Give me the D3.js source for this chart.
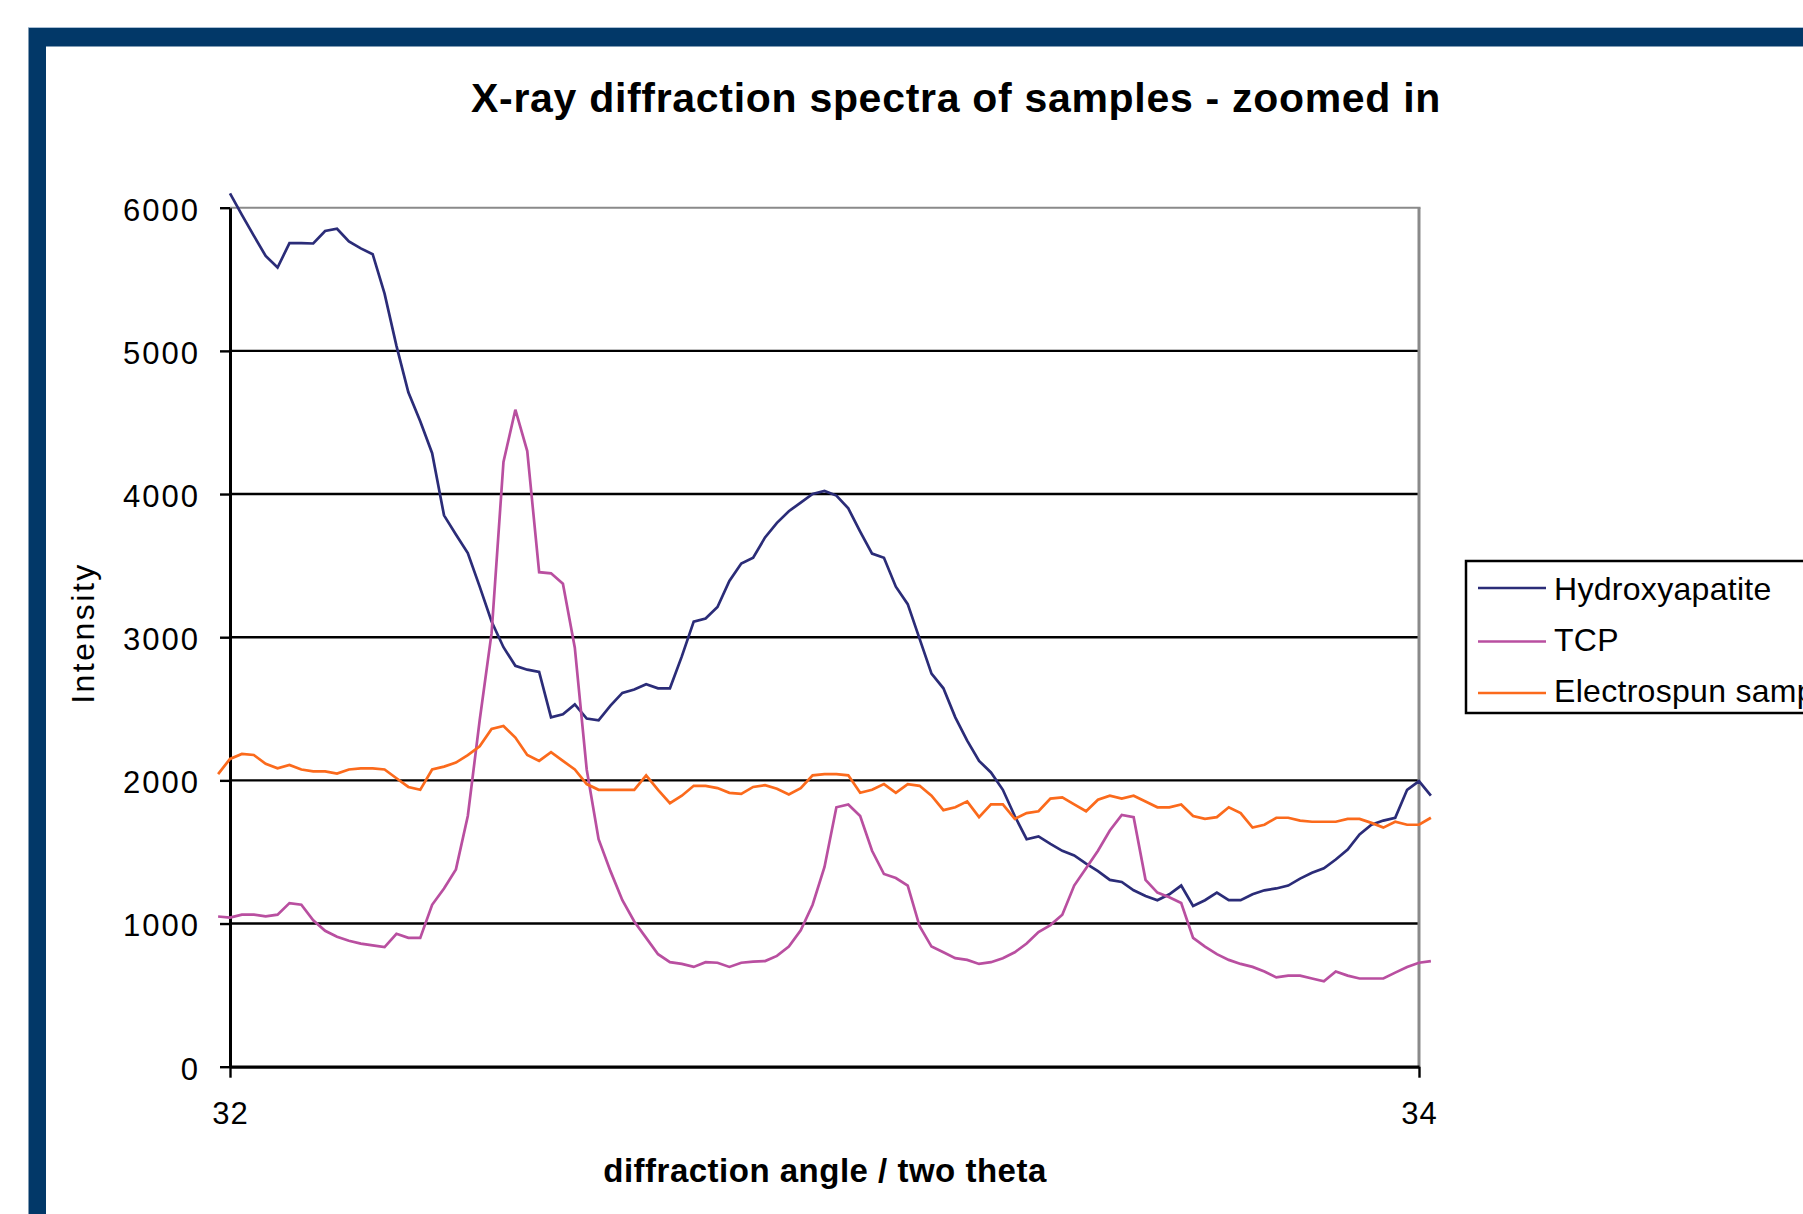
<!DOCTYPE html>
<html><head><meta charset="utf-8">
<script src="https://cdn.jsdelivr.net/npm/d3@7"></script>
<style>body{margin:0;background:#fff;overflow:hidden}svg{display:block}</style>
</head><body>
<svg id="chart" width="1803" height="1214"></svg>
<script>
// ---------- data ----------
const twoTheta = [31.98,32.00,32.02,32.04,32.06,32.08,32.10,32.12,32.14,32.16,32.18,32.20,32.22,32.24,32.26,32.28,32.30,32.32,32.34,32.36,32.38,32.40,32.42,32.44,32.46,32.48,32.50,32.52,32.54,32.56,32.58,32.60,32.62,32.64,32.66,32.68,32.70,32.72,32.74,32.76,32.78,32.80,32.82,32.84,32.86,32.88,32.90,32.92,32.94,32.96,32.98,33.00,33.02,33.04,33.06,33.08,33.10,33.12,33.14,33.16,33.18,33.20,33.22,33.24,33.26,33.28,33.30,33.32,33.34,33.36,33.38,33.40,33.42,33.44,33.46,33.48,33.50,33.52,33.54,33.56,33.58,33.60,33.62,33.64,33.66,33.68,33.70,33.72,33.74,33.76,33.78,33.80,33.82,33.84,33.86,33.88,33.90,33.92,33.94,33.96,33.98,34.00,34.02];

const hydroxyapatite = [null,6100,5950,5805,5663,5582,5752,5752,5750,5837,5853,5765,5716,5675,5400,5035,4711,4508,4285,3851,3717,3588,3353,3110,2930,2800,2773,2757,2440,2461,2530,2432,2420,2522,2611,2635,2672,2643,2643,2866,3109,3130,3211,3393,3515,3555,3697,3799,3880,3940,4001,4022,3989,3900,3738,3584,3555,3353,3231,2988,2745,2643,2440,2278,2136,2055,1934,1751,1589,1609,1557,1508,1476,1419,1366,1305,1290,1232,1192,1163,1204,1265,1123,1163,1216,1163,1163,1204,1232,1245,1265,1314,1354,1386,1447,1516,1622,1690,1719,1739,1934,1995,1893];

const tcp = [1049,1042,1062,1062,1050,1062,1143,1131,1022,949,908,880,860,847,835,928,900,900,1131,1245,1378,1751,2420,3028,4224,4589,4300,3454,3446,3373,2927,2076,1589,1366,1163,1014,900,786,730,718,697,730,726,697,726,734,738,774,839,953,1131,1395,1812,1832,1751,1508,1346,1318,1265,981,839,799,758,746,718,730,758,799,860,941,989,1062,1265,1386,1508,1650,1759,1743,1305,1216,1184,1143,900,839,786,746,718,697,665,624,636,636,616,596,665,636,616,616,616,657,697,726,738];

const electrospun = [2044,2150,2185,2177,2116,2084,2108,2076,2063,2063,2047,2076,2084,2084,2076,2015,1954,1934,2076,2096,2124,2177,2238,2359,2380,2299,2177,2136,2197,2136,2076,1974,1934,1934,1934,1934,2035,1934,1841,1893,1962,1962,1946,1913,1905,1954,1966,1942,1901,1946,2035,2043,2043,2035,1913,1934,1974,1913,1974,1962,1893,1792,1812,1853,1743,1832,1832,1731,1771,1784,1873,1881,1832,1784,1865,1893,1873,1893,1853,1812,1812,1832,1751,1731,1743,1812,1771,1670,1690,1739,1739,1719,1711,1711,1711,1731,1731,1703,1670,1711,1690,1690,1739];

const yTicks = [0,1000,2000,3000,4000,5000,6000];
const xTicks = [32,34];
const seriesNames = ["Hydroxyapatite","TCP","Electrospun sample"];
const seriesColors = ["#2b2c78","#b94fa0","#fb6a1c"];
const titleText = "X-ray diffraction spectra of samples - zoomed in";
const xLabel = "diffraction angle / two theta";
const yLabel = "Intensity";

// ---------- layout ----------
const FONT = "'Liberation Sans', Arial, sans-serif";
const svg = d3.select("#chart");
const plot = {left:230, right:1419, top:207.7, bottom:1066.7};

// frame
svg.append("rect").attr("x",0).attr("y",0).attr("width",1803).attr("height",1214).attr("fill","#fff");
svg.append("rect").attr("x",28.5).attr("y",27.5).attr("width",1803).attr("height",1214).attr("fill","#023868");
svg.append("line").attr("x1",28).attr("x2",1803).attr("y1",27.5).attr("y2",27.5).attr("stroke","#a9bed4").attr("stroke-width",1);
svg.append("rect").attr("x",46).attr("y",46.5).attr("width",1803).attr("height",1214).attr("fill","#fff");

const x = d3.scaleLinear().domain([32,34]).range([plot.left, plot.right]);
const y = d3.scaleLinear().domain([0,6000]).range([plot.bottom, plot.top]);

// gridlines
const grid = svg.append("g");
grid.selectAll("line.g").data(yTicks.filter(v => v > 0 && v < 6000)).join("line")
  .attr("x1", plot.left).attr("x2", plot.right)
  .attr("y1", d => y(d)).attr("y2", d => y(d))
  .attr("stroke","#000").attr("stroke-width",2.4);
// plot border top & right (grey)
grid.append("line").attr("x1",plot.left).attr("x2",plot.right+1.5)
  .attr("y1",y(6000)).attr("y2",y(6000)).attr("stroke","#8a8a8a").attr("stroke-width",2);
grid.append("line").attr("x1",plot.right).attr("x2",plot.right)
  .attr("y1",y(6000)).attr("y2",plot.bottom).attr("stroke","#8a8a8a").attr("stroke-width",3);

// axes
const yAxis = d3.axisLeft(y).tickValues(yTicks).tickSize(10).tickSizeOuter(0).tickPadding(20).tickFormat(d3.format("d"));
const gy = svg.append("g").attr("transform",`translate(${plot.left},0)`).call(yAxis);
gy.select(".domain").attr("stroke","#000").attr("stroke-width",3);
gy.selectAll(".tick line").attr("stroke","#000").attr("stroke-width",2.4);
gy.selectAll(".tick text").attr("font-family",FONT).attr("font-size",31).attr("fill","#000")
  .attr("dy","0.4em").attr("letter-spacing","2px");

const xAxis = d3.axisBottom(x).tickValues(xTicks).tickSize(11).tickSizeOuter(0).tickPadding(24).tickFormat(d3.format("d"));
const gx = svg.append("g").attr("transform",`translate(0,${plot.bottom})`).call(xAxis);
gx.select(".domain").attr("stroke","#000").attr("stroke-width",3.2);
gx.selectAll(".tick line").attr("stroke","#000").attr("stroke-width",2.4);
gx.selectAll(".tick text").attr("font-family",FONT).attr("font-size",31).attr("fill","#000").attr("letter-spacing","1px");

// series
const seriesData = [hydroxyapatite, tcp, electrospun];
const line = d3.line()
  .defined(d => d[1] !== null)
  .x(d => x(d[0])).y(d => y(d[1]));
const lines = svg.append("g");
seriesData.forEach((vals, i) => {
  lines.append("path")
    .datum(twoTheta.map((t, j) => [t, vals[j]]))
    .attr("d", line)
    .attr("fill","none")
    .attr("stroke", seriesColors[i])
    .attr("stroke-width", 2.7)
    .attr("stroke-linejoin","miter");
});

// title
svg.append("text").attr("x",956).attr("y",112).attr("text-anchor","middle")
  .attr("font-family",FONT).attr("font-weight","bold").attr("font-size",41)
  .attr("letter-spacing","0.7px").attr("fill","#000").text(titleText);

// axis titles
svg.append("text").attr("x",825).attr("y",1182).attr("text-anchor","middle")
  .attr("font-family",FONT).attr("font-weight","bold").attr("font-size",33)
  .attr("letter-spacing","0.5px").attr("fill","#000").text(xLabel);
svg.append("text").attr("transform","translate(94,633) rotate(-90)").attr("text-anchor","middle")
  .attr("font-family",FONT).attr("font-size",32).attr("letter-spacing","2.5px").attr("fill","#000").text(yLabel);

// legend
const lg = svg.append("g");
lg.append("rect").attr("x",1466).attr("y",561).attr("width",420).attr("height",152)
  .attr("fill","#fff").attr("stroke","#000").attr("stroke-width",2.5);
const legendY = [588, 641.5, 693];
const legendBase = [600, 651, 702];
seriesNames.forEach((name, i) => {
  lg.append("line").attr("x1",1478).attr("x2",1546).attr("y1",legendY[i]).attr("y2",legendY[i])
    .attr("stroke",seriesColors[i]).attr("stroke-width",2.5);
  lg.append("text").attr("x",1554).attr("y",legendBase[i])
    .attr("font-family",FONT).attr("font-size",32).attr("letter-spacing","0.3px").attr("fill","#000").text(name);
});
</script>
</body></html>
